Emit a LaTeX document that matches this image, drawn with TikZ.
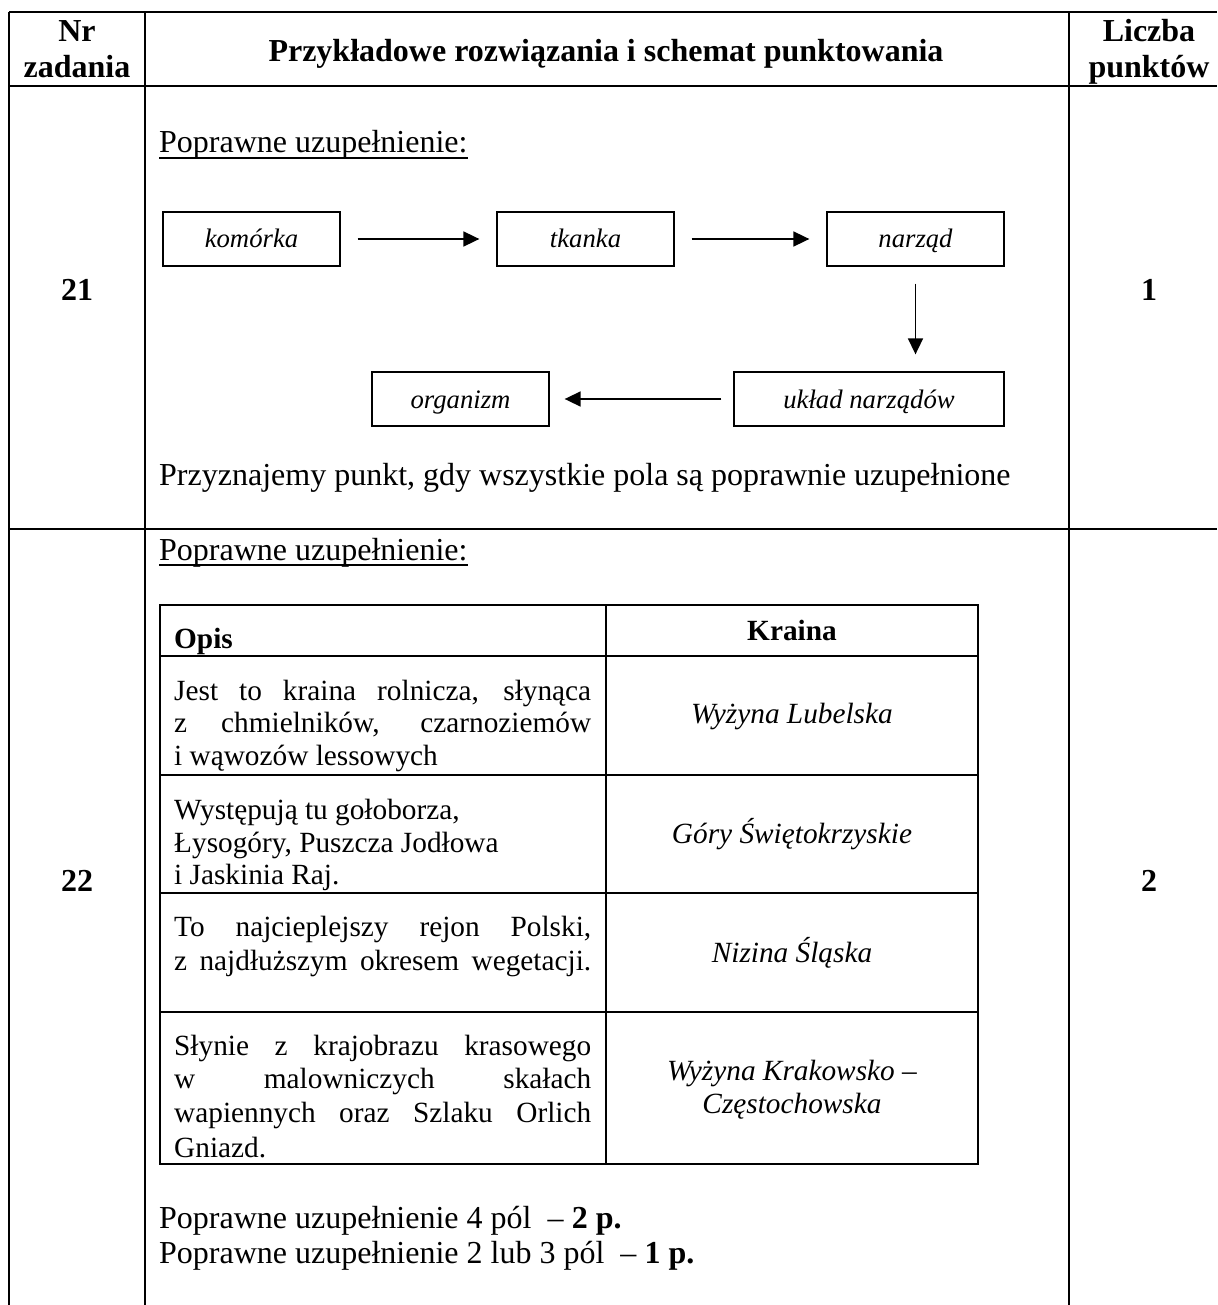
\documentclass[tikz,border=0pt]{standalone}
\usepackage{fontspec}
\setmainfont{Liberation Serif}
\usetikzlibrary{arrows.meta}
\tikzset{
  gridline/.style={line width=2.2pt},
  stage/.style={draw, line width=1.3pt, minimum width=177pt, minimum height=54pt, inner sep=0pt,
    text height=20pt, text depth=2pt,
    font=\fontsize{26.7}{30}\selectfont\itshape},
  flow/.style={line width=1.7pt, -{Triangle[length=16pt,width=15pt]}, shorten >=17pt, shorten <=17pt},
  body/.style={anchor=base west, inner sep=0pt, font=\fontsize{32}{37}\selectfont},
  hdr/.style={anchor=base, inner sep=0pt, font=\fontsize{32}{37}\selectfont\bfseries},
  cell/.style={anchor=base west, inner sep=0pt, font=\fontsize{29.3}{33.5}\selectfont},
  cellhdr/.style={inner sep=0pt, font=\fontsize{29.3}{33.5}\selectfont\bfseries},
  land/.style={anchor=base, inner sep=0pt, font=\fontsize{29.3}{33.5}\selectfont\itshape},
  ulined/.style={line width=1.3pt}
}
\newcommand{\jline}[1]{\makebox[417pt][s]{#1}}
\begin{document}
\begin{tikzpicture}[x=1pt,y=-1pt]
\useasboundingbox (0,0) rectangle (1217,1305);
% outer table
\draw[gridline] (9,12) -- (1217,12);
\draw[gridline] (9,86) -- (1217,86);
\draw[gridline] (9,529) -- (1217,529);
\draw[gridline] (9,12) -- (9,1305);
\draw[gridline] (145,12) -- (145,1305);
\draw[gridline] (1069,12) -- (1069,1305);
% header
\node[hdr] (nr) at (77,42) {Nr};
\node[hdr] (zad) at (77,78) {zadania};
\node[hdr] (title) at (606,62) {Przykładowe rozwiązania i schemat punktowania};
\node[hdr] (lic) at (1149,42) {Liczba};
\node[hdr] (pkt) at (1149,78) {punktów};
% task 21
\node[hdr] (n21) at (77,301) {21};
\node[hdr] (p21) at (1149,301) {1};
\node[body] (pop1) at (159,153) {Poprawne uzupełnienie:};
\draw[ulined] ([yshift=-5pt]pop1.base west) -- ([yshift=-5pt]pop1.base east);
\node[stage] (kom) at (251.5,239) {komórka};
\node[stage] (tka) at (585.5,239) {tkanka};
\node[stage] (nar) at (915.5,239) {narząd};
\node[stage, minimum width=270pt] (ukl) at (869,399) {układ narządów};
\node[stage] (org) at (460.5,399) {organizm};
\draw[flow] (kom) -- (tka);
\draw[flow] (tka) -- (nar);
\draw[flow] (nar.south) -- (nar.south |- ukl.north);
\draw[flow, shorten <=12pt, shorten >=15pt] (ukl) -- (org);
\node[body] (przy) at (159,485) {Przyznajemy punkt, gdy wszystkie pola są poprawnie uzupełnione};
% task 22
\node[hdr] (n22) at (77,891) {22};
\node[hdr] (p22) at (1149,891) {2};
\node[body] (pop2) at (159,560) {Poprawne uzupełnienie:};
\draw[ulined] ([yshift=-5pt]pop2.base west) -- ([yshift=-5pt]pop2.base east);
% inner table
\draw[gridline] (160,605) rectangle (978,1164);
\draw[gridline] (160,656) -- (978,656);
\draw[gridline] (160,775) -- (978,775);
\draw[gridline] (160,893) -- (978,893);
\draw[gridline] (160,1012) -- (978,1012);
\draw[gridline] (606,605) -- (606,1164);
\node[cellhdr, anchor=base west] (opis) at (174,648) {Opis};
\node[cellhdr, anchor=base] (kraina) at (792,640) {Kraina};
% row 1
\node[cell] (r1a) at (174,700) {\jline{Jest to kraina rolnicza, słynąca}};
\node[cell] (r1b) at (174,732) {\jline{z chmielników, czarnoziemów}};
\node[cell] (r1c) at (174,765) {i wąwozów lessowych};
\node[land] (k1) at (792,723) {Wyżyna Lubelska};
% row 2
\node[cell] (r2a) at (174,819) {Występują tu gołoborza,};
\node[cell] (r2b) at (174,852) {Łysogóry, Puszcza Jodłowa};
\node[cell] (r2c) at (174,884) {i Jaskinia Raj.};
\node[land] (k2) at (792,843) {Góry Świętokrzyskie};
% row 3
\node[cell] (r3a) at (174,936) {\jline{To najcieplejszy rejon Polski,}};
\node[cell] (r3b) at (174,970) {\jline{z najdłuższym okresem wegetacji.}};
\node[land] (k3) at (792,962) {Nizina Śląska};
% row 4
\node[cell] (r4a) at (174,1055) {\jline{Słynie z krajobrazu krasowego}};
\node[cell] (r4b) at (174,1088) {\jline{w malowniczych skałach}};
\node[cell] (r4c) at (174,1122) {\jline{wapiennych oraz Szlaku Orlich}};
\node[cell] (r4d) at (174,1157) {Gniazd.};
\node[land] (k4a) at (792,1080) {Wyżyna Krakowsko –};
\node[land] (k4b) at (792,1113) {Częstochowska};
% scoring
\node[body] (s1) at (159,1228) {Poprawne uzupełnienie 4 pól~~– \textbf{2 p.}};
\node[body] (s2) at (159,1263) {Poprawne uzupełnienie 2 lub 3 pól~~– \textbf{1 p.}};
\end{tikzpicture}
\end{document}
